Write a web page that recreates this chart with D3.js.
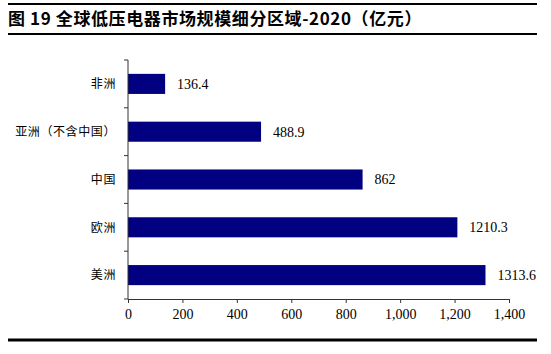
<!DOCTYPE html>
<html>
<head>
<meta charset="utf-8">
<script src="https://cdn.jsdelivr.net/npm/d3@7"></script>
<style>
  body { margin: 0; background: #fff; }
</style>
</head>
<body>
<svg id="chart" width="551" height="354"></svg>
<script>
// data
const regions = ["非洲", "亚洲（不含中国）", "中国", "欧洲", "美洲"];
const values = [136.4, 488.9, 862, 1210.3, 1313.6];
const valueLabels = ["136.4", "488.9", "862", "1210.3", "1313.6"];
const xTicks = [0, 200, 400, 600, 800, 1000, 1200, 1400];

const svg = d3.select("#chart");
const margin = { top: 60, right: 42, bottom: 55, left: 128 };
const width = +svg.attr("width");
const height = +svg.attr("height");
const chartWidth = width - margin.left - margin.right;
const chartHeight = height - margin.top - margin.bottom;

// title and rules
svg.append("line").attr("x1", 8).attr("x2", 537).attr("y1", 4).attr("y2", 4)
  .attr("stroke", "#000").attr("stroke-width", 2);
svg.append("line").attr("x1", 8).attr("x2", 537).attr("y1", 34).attr("y2", 34)
  .attr("stroke", "#000").attr("stroke-width", 2);
svg.append("line").attr("x1", 8).attr("x2", 537).attr("y1", 340).attr("y2", 340)
  .attr("stroke", "#000").attr("stroke-width", 3);
svg.append("text")
  .attr("x", 8).attr("y", 25)
  .attr("font-family", "Noto Sans CJK SC")
  .attr("font-weight", "bold")
  .attr("font-size", 17)
  .attr("letter-spacing", 0.6)
  .attr("fill", "#000")
  .text("图 19 全球低压电器市场规模细分区域-2020（亿元）");

const g = svg.append("g")
  .attr("transform", `translate(${margin.left},${margin.top})`);

const x = d3.scaleLinear().domain([0, 1400]).range([0, chartWidth]);
const y = d3.scaleBand().domain(regions).range([0, chartHeight]).paddingInner(0.58).paddingOuter(0.29);

// bars
g.selectAll(".bar")
  .data(regions)
  .enter()
  .append("rect")
  .attr("x", 0)
  .attr("y", (d) => y(d))
  .attr("width", (d, i) => x(values[i]))
  .attr("height", y.bandwidth())
  .attr("fill", "#000080");

// value labels
g.selectAll(".val")
  .data(regions)
  .enter()
  .append("text")
  .attr("x", (d, i) => x(values[i]) + 12)
  .attr("y", (d) => y(d) + y.bandwidth() / 2)
  .attr("dy", "0.35em")
  .attr("font-family", "Liberation Serif")
  .attr("font-size", 14)
  .text((d, i) => valueLabels[i]);

// x axis
const xAxis = g.append("g")
  .attr("transform", `translate(0,${chartHeight})`)
  .call(d3.axisBottom(x).tickValues(xTicks).tickFormat(d3.format(",")).tickSize(4).tickSizeOuter(4));
xAxis.selectAll("text")
  .attr("font-family", "Liberation Serif")
  .attr("font-size", 14)
  .attr("fill", "#000")
  .attr("dy", "0.95em");
xAxis.selectAll("line, path").attr("stroke", "#333");

// y axis with ticks between categories
const step = chartHeight / regions.length;
const yAxis = g.append("g");
yAxis.append("line")
  .attr("x1", 0).attr("x2", 0).attr("y1", 0).attr("y2", chartHeight)
  .attr("stroke", "#333");
yAxis.selectAll(".ytick")
  .data(d3.range(regions.length + 1))
  .enter()
  .append("line")
  .attr("x1", -4).attr("x2", 0)
  .attr("y1", (d) => d * step).attr("y2", (d) => d * step)
  .attr("stroke", "#333");
yAxis.selectAll(".ylabel")
  .data(regions)
  .enter()
  .append("text")
  .attr("x", -12)
  .attr("y", (d) => y(d) + y.bandwidth() / 2)
  .attr("dy", "0.35em")
  .attr("text-anchor", "end")
  .attr("font-family", "Noto Sans CJK SC")
  .attr("font-size", 12)
  .attr("letter-spacing", 0.6)
  .text((d) => d);
</script>
</body>
</html>
